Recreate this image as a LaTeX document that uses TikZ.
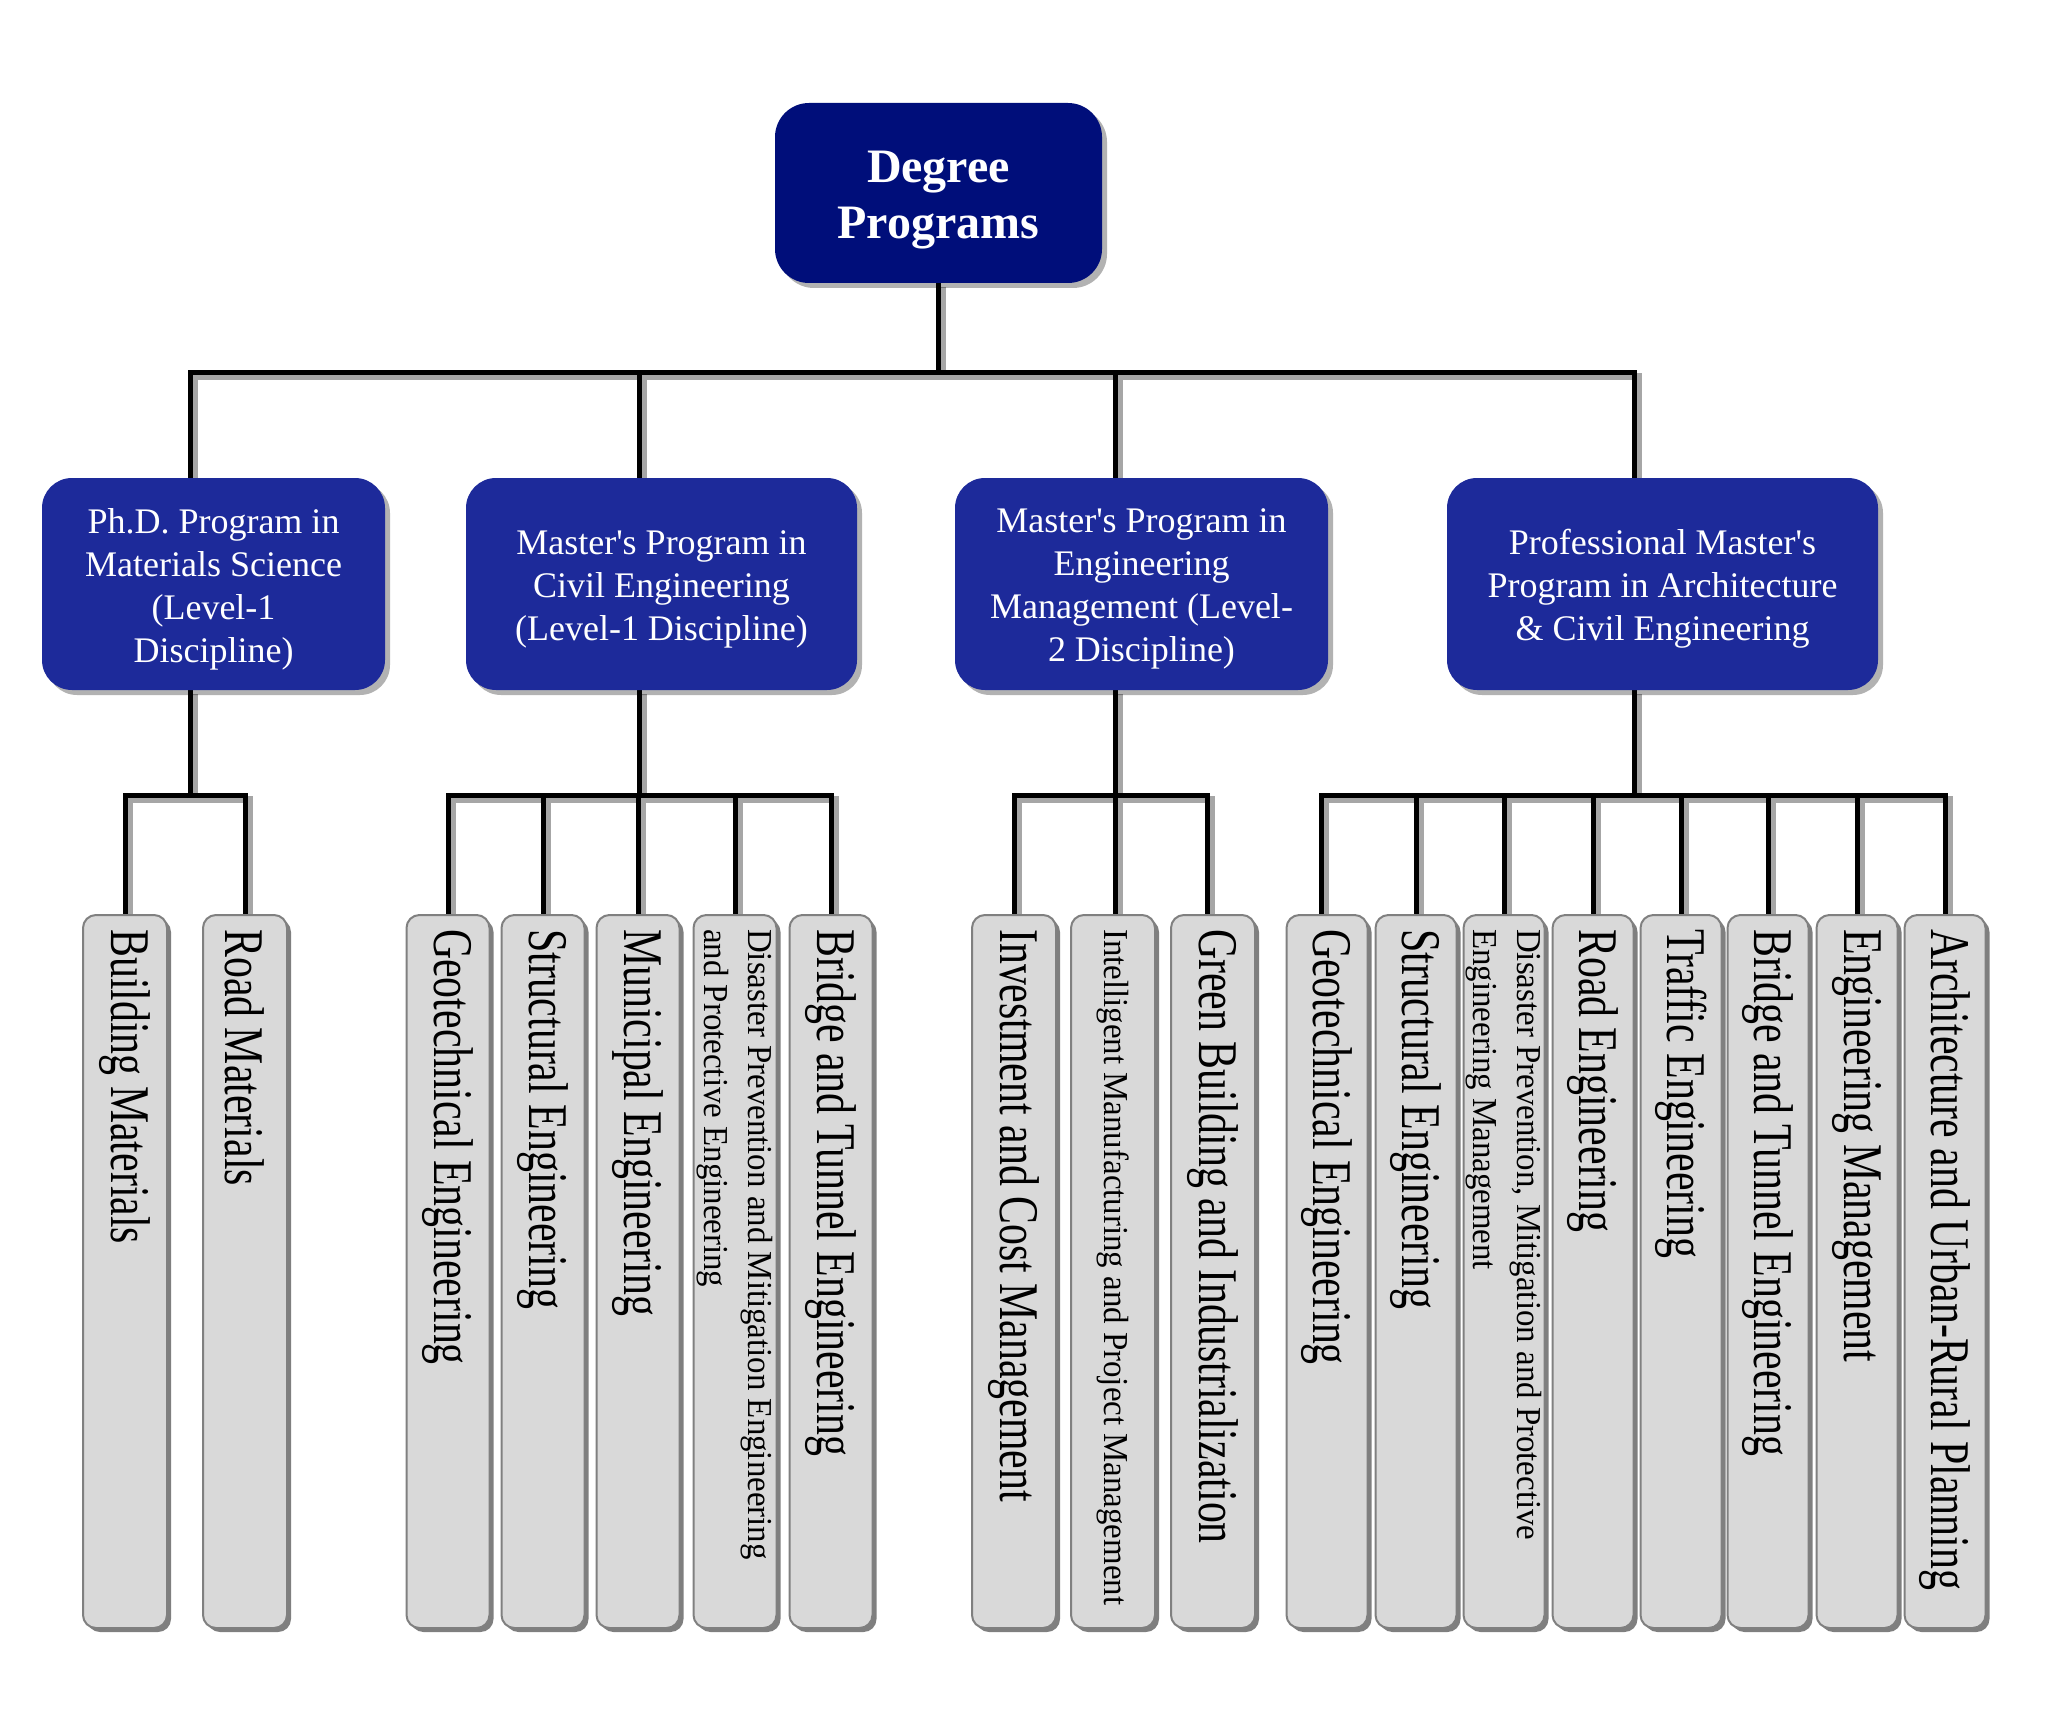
\documentclass[tikz,border=0pt]{standalone}
\usepackage{fontspec}
\setmainfont{Liberation Serif}
\newfontfamily\plainfont{Liberation Serif}
\usepackage{graphicx}
\usetikzlibrary{shadows}
\pgfdeclarelayer{shade}
\pgfdeclarelayer{bg}
\pgfsetlayers{shade,bg,main}
\definecolor{topblue}{RGB}{0,14,122}
\definecolor{midblue}{RGB}{29,42,154}
\definecolor{leafgray}{RGB}{217,217,217}
\definecolor{leafedge}{RGB}{128,128,128}
\newcommand\aq{{\plainfont\char"0027\relax}}
\newcommand\bigleaf[1]{\fontsize{56}{60}\selectfont\scalebox{0.747}[1]{#1}}
\newcommand\smallleaf[1]{\fontsize{35}{44}\selectfont\scalebox{0.94}[1]{\begin{tabular}{@{}l@{}}#1\end{tabular}}}
\newcommand\conn[1]{%
  \begin{pgfonlayer}{shade}\draw[connshadow] #1;\end{pgfonlayer}%
  \begin{pgfonlayer}{bg}\draw[connline] #1;\end{pgfonlayer}}
\tikzset{
  topbox/.style={rounded corners=34pt, fill=topblue,
    minimum width=327pt, minimum height=180pt, inner sep=0pt,
    drop shadow={shadow xshift=5pt, shadow yshift=-5pt, fill=black, opacity=0.3}},
  toptext/.style={text=white, font=\fontsize{48}{56}\selectfont\bfseries,
    align=center, inner sep=0pt},
  midbox/.style={rounded corners=30pt, fill=midblue,
    minimum height=212pt, inner sep=0pt,
    drop shadow={shadow xshift=5pt, shadow yshift=-5pt, fill=black, opacity=0.3}},
  midtext/.style={text=white, font=\fontsize{36}{43}\selectfont,
    align=center, inner sep=0pt},
  leafbox/.style={rounded corners=13pt, fill=leafgray, draw=leafedge, line width=2pt,
    minimum height=713pt, inner sep=0pt,
    drop shadow={shadow xshift=4pt, shadow yshift=-4pt, fill=black, opacity=0.5}},
  leaftext/.style={rotate=-90, anchor=west, inner sep=0pt, text=black},
  connline/.style={line width=5pt, black, line join=miter},
  connshadow/.style={line width=7pt, black!35, line join=miter,
    transform canvas={xshift=4pt, yshift=-4pt}}
}
\begin{document}
\begin{tikzpicture}[x=1pt, y=-1pt]
\useasboundingbox (0,0) rectangle (2048,1728);

% root
\node[topbox] (top) at (938.5,193) {};
\node[toptext] (topL) at ([yshift=-7pt]top.center) {Degree\\Programs};

% level 2
\node[midbox, minimum width=343pt] (phd) at (213.5,584) {};
\node[midtext] (phdL) at ([yshift=-5pt]phd.center)
  {Ph.D. Program in\\Materials Science\\(Level-1\\Discipline)};
\node[midbox, minimum width=391pt] (mce) at (661.5,584) {};
\node[midtext] (mceL) at ([yshift=-5pt]mce.center)
  {Master\aq s Program in\\Civil Engineering\\(Level-1 Discipline)};
\node[midbox, minimum width=373pt] (mem) at (1141.5,584) {};
\node[midtext] (memL) at ([yshift=-5pt]mem.center)
  {Master\aq s Program in\\Engineering\\Management (Level-\\2 Discipline)};
\node[midbox, minimum width=431pt] (pro) at (1662.5,584) {};
\node[midtext] (proL) at ([yshift=-5pt]pro.center)
  {Professional Master\aq s\\Program in Architecture\\\& Civil Engineering};

% leaves, group 1
\node[leafbox, minimum width=84pt] (a1) at (125,1271.5) {};
\node[leaftext] (a1t) at ([yshift=-15pt]a1.north) {\bigleaf{Building Materials}};
\node[leafbox, minimum width=84pt] (a2) at (245,1271.5) {};
\node[leaftext] (a2t) at ([yshift=-15pt]a2.north) {\bigleaf{Road Materials}};

% group 2
\node[leafbox, minimum width=83pt] (b1) at (448,1271.5) {};
\node[leaftext] (b1t) at ([yshift=-15pt]b1.north) {\bigleaf{Geotechnical Engineering}};
\node[leafbox, minimum width=83pt] (b2) at (543,1271.5) {};
\node[leaftext] (b2t) at ([yshift=-15pt]b2.north) {\bigleaf{Structural Engineering}};
\node[leafbox, minimum width=83pt] (b3) at (638,1271.5) {};
\node[leaftext] (b3t) at ([yshift=-15pt]b3.north) {\bigleaf{Municipal Engineering}};
\node[leafbox, minimum width=83pt] (b4) at (735,1271.5) {};
\node[leaftext] (b4t) at ([yshift=-15pt]b4.north) {\smallleaf{Disaster Prevention and Mitigation Engineering\\and Protective Engineering}};
\node[leafbox, minimum width=83pt] (b5) at (831,1271.5) {};
\node[leaftext] (b5t) at ([yshift=-15pt]b5.north) {\bigleaf{Bridge and Tunnel Engineering}};

% group 3
\node[leafbox, minimum width=84pt] (c1) at (1014,1271.5) {};
\node[leaftext] (c1t) at ([yshift=-15pt]c1.north) {\bigleaf{Investment and Cost Management}};
\node[leafbox, minimum width=84pt] (c2) at (1113,1271.5) {};
\node[leaftext] (c2t) at ([yshift=-15pt]c2.north) {\smallleaf{Intelligent Manufacturing and Project Management}};
\node[leafbox, minimum width=84pt] (c3) at (1213,1271.5) {};
\node[leaftext] (c3t) at ([yshift=-15pt]c3.north) {\bigleaf{Green Building and Industrialization}};

% group 4
\node[leafbox, minimum width=81pt] (d1) at (1327,1271.5) {};
\node[leaftext] (d1t) at ([yshift=-15pt]d1.north) {\bigleaf{Geotechnical Engineering}};
\node[leafbox, minimum width=81pt] (d2) at (1416,1271.5) {};
\node[leaftext] (d2t) at ([yshift=-15pt]d2.north) {\bigleaf{Structural Engineering}};
\node[leafbox, minimum width=81pt] (d3) at (1504,1271.5) {};
\node[leaftext] (d3t) at ([yshift=-15pt]d3.north) {\smallleaf{Disaster Prevention, Mitigation and Protective\\Engineering Management}};
\node[leafbox, minimum width=81pt] (d4) at (1593,1271.5) {};
\node[leaftext] (d4t) at ([yshift=-15pt]d4.north) {\bigleaf{Road Engineering}};
\node[leafbox, minimum width=81pt] (d5) at (1681,1271.5) {};
\node[leaftext] (d5t) at ([yshift=-15pt]d5.north) {\bigleaf{Traffic Engineering}};
\node[leafbox, minimum width=81pt] (d6) at (1768,1271.5) {};
\node[leaftext] (d6t) at ([yshift=-15pt]d6.north) {\bigleaf{Bridge and Tunnel Engineering}};
\node[leafbox, minimum width=81pt] (d7) at (1857,1271.5) {};
\node[leaftext] (d7t) at ([yshift=-15pt]d7.north) {\bigleaf{Engineering Management}};
\node[leafbox, minimum width=81pt] (d8) at (1945,1271.5) {};
\node[leaftext] (d8t) at ([yshift=-15pt]d8.north) {\bigleaf{Architecture and Urban-Rural Planning}};

% connector helper coordinates
\coordinate (xa) at (190,0);
\coordinate (xb) at (639,0);
\coordinate (xc) at (1115,0);
\coordinate (xd) at (1634,0);
\coordinate (xc3) at (1207,0);
\coordinate (xd1) at (1321,0);
\coordinate (busTop) at (0,372);
\coordinate (busLow) at (0,795);

% root to level 2
\conn{(top.south) |- (xa |- busTop) -- (phd.north -| xa)}
\conn{(top.south) |- (xb |- busTop) -- (mce.north -| xb)}
\conn{(top.south) |- (xc |- busTop) -- (mem.north -| xc)}
\conn{(top.south) |- (xd |- busTop) -- (pro.north -| xd)}

% level 2 to leaves
\conn{(phd.south -| xa) |- (a1.north |- busLow) -- (a1.north)}
\conn{(phd.south -| xa) |- (a2.north |- busLow) -- (a2.north)}

\conn{(mce.south -| xb) |- (b1.north |- busLow) -- (b1.north)}
\conn{(mce.south -| xb) |- (b2.north |- busLow) -- (b2.north)}
\conn{(mce.south -| xb) |- (b3.north |- busLow) -- (b3.north)}
\conn{(mce.south -| xb) |- (b4.north |- busLow) -- (b4.north)}
\conn{(mce.south -| xb) |- (b5.north |- busLow) -- (b5.north)}

\conn{(mem.south -| xc) |- (c1.north |- busLow) -- (c1.north)}
\conn{(mem.south -| xc) -- (c2.north -| xc)}
\conn{(mem.south -| xc) |- (xc3 |- busLow) -- (c3.north -| xc3)}

\conn{(pro.south -| xd) |- (xd1 |- busLow) -- (d1.north -| xd1)}
\conn{(pro.south -| xd) |- (d2.north |- busLow) -- (d2.north)}
\conn{(pro.south -| xd) |- (d3.north |- busLow) -- (d3.north)}
\conn{(pro.south -| xd) |- (d4.north |- busLow) -- (d4.north)}
\conn{(pro.south -| xd) |- (d5.north |- busLow) -- (d5.north)}
\conn{(pro.south -| xd) |- (d6.north |- busLow) -- (d6.north)}
\conn{(pro.south -| xd) |- (d7.north |- busLow) -- (d7.north)}
\conn{(pro.south -| xd) |- (d8.north |- busLow) -- (d8.north)}
\end{tikzpicture}
\end{document}
